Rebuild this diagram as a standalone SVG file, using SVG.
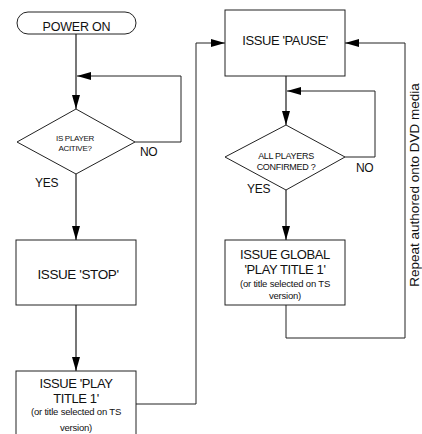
<svg xmlns="http://www.w3.org/2000/svg" width="422" height="434" viewBox="0 0 422 434">
<defs>
<marker id="ah" markerUnits="userSpaceOnUse" markerWidth="14" markerHeight="8" refX="14" refY="4" orient="auto">
<path d="M0,0 L14,4 L0,8 z" fill="#000"/>
</marker>
<style>
.box{fill:#fff;stroke:#222;stroke-width:1}
.flow{fill:none;stroke:#555;stroke-width:1.6}
.ret{fill:none;stroke:#222;stroke-width:1}
text{font-family:"Liberation Sans",Arial,sans-serif;fill:#111;text-anchor:middle}
.big{font-size:13px;letter-spacing:-0.4px}
.sm{font-size:9.5px;letter-spacing:-0.2px}
.dia{font-size:8px;letter-spacing:-0.3px}
.lbl{font-size:12px;letter-spacing:-0.3px;text-anchor:start}
</style>
</defs>
<rect width="422" height="434" fill="#fff"/>
<g id="connectors">
<path class="flow" d="M76,34 V109" marker-end="url(#ah)"/>
<path class="ret" d="M135,142 H181 V76 H77" marker-end="url(#ah)"/>
<path class="flow" d="M76,174 V240" marker-end="url(#ah)"/>
<path class="flow" d="M76,305 V371" marker-end="url(#ah)"/>
<path class="ret" d="M136,404 H196 V43 H225" marker-end="url(#ah)"/>
<path class="flow" d="M286,76 V125" marker-end="url(#ah)"/>
<path class="ret" d="M345,157 H375 V91 H287" marker-end="url(#ah)"/>
<path class="flow" d="M286,190 V240" marker-end="url(#ah)"/>
<path class="ret" d="M286,305 V338 H405 V43 H345" marker-end="url(#ah)"/>
</g>
<g id="power-on">
<rect class="box" x="17" y="12" width="119" height="22" rx="11" ry="11"/>
<text class="big" x="76.5" y="30.5" style="font-size:12.5px;letter-spacing:-0.2px">POWER ON</text>
</g>
<g id="is-player-active">
<polygon class="box" points="76,109 135,142 76,174 17,142"/>
<text class="dia" x="75" y="140.5">IS PLAYER</text>
<text class="dia" x="75" y="151">ACITIVE?</text>
<text class="lbl" x="140" y="155.5">NO</text>
<text class="lbl" x="35" y="187">YES</text>
</g>
<g id="issue-stop">
<rect class="box" x="16" y="240" width="120" height="65"/>
<text class="big" x="78" y="278.5" style="font-size:13.5px">ISSUE 'STOP'</text>
</g>
<g id="issue-play-title">
<rect class="box" x="16" y="371" width="120" height="70"/>
<text class="big" x="76" y="388">ISSUE 'PLAY</text>
<text class="big" x="76" y="403">TITLE 1'</text>
<text class="sm" x="76" y="414.5">(or title selected on TS</text>
<text class="sm" x="76" y="430.5">version)</text>
</g>
<g id="issue-pause">
<rect class="box" x="225" y="10" width="120" height="66"/>
<text class="big" x="285" y="45">ISSUE 'PAUSE'</text>
</g>
<g id="all-players-confirmed">
<polygon class="box" points="286,125 345,157 286,190 225,157"/>
<text class="dia" x="286" y="158.5" style="font-size:9px">ALL PLAYERS</text>
<text class="dia" x="286" y="170" style="font-size:9px">CONFIRMED ?</text>
<text class="lbl" x="356" y="172">NO</text>
<text class="lbl" x="247" y="193">YES</text>
</g>
<g id="issue-global-play">
<rect class="box" x="225" y="240" width="120" height="65"/>
<text class="big" x="285" y="258.5">ISSUE GLOBAL</text>
<text class="big" x="285" y="274">'PLAY TITLE 1'</text>
<text class="sm" x="285" y="287">(or title selected on TS</text>
<text class="sm" x="285" y="299">version)</text>
</g>
<g id="repeat-label">
<text transform="translate(419,185) rotate(-90)" style="font-size:13.5px">Repeat authored onto DVD media</text>
</g>
</svg>
